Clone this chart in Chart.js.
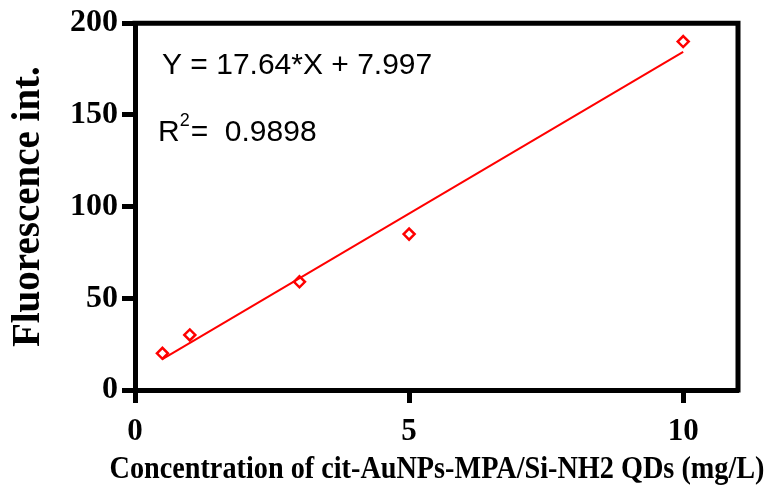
<!DOCTYPE html>
<html>
<head>
<meta charset="utf-8">
<script src="https://cdn.jsdelivr.net/npm/chart.js@4"></script>
<style>
  html, body { margin: 0; padding: 0; background: #fff; }
  #wrap { width: 769px; height: 492px; }
</style>
</head>
<body>
<div id="wrap"><canvas id="calib" width="769" height="492"></canvas></div>
<script>
// Calibration data: concentration (mg/L) vs fluorescence intensity
const concentration = [0.5, 1, 3, 5, 10];
const fluorescence = [20, 30, 59, 85, 190];

// Linear fit reported on the plot
const slope = 17.64;
const intercept = 7.997;
const rSquared = 0.9898;
const fitRange = [0.5, 10];

const xTicks = [0, 5, 10];
const yTicks = [0, 50, 100, 150, 200];
const xTitle = 'Concentration of cit-AuNPs-MPA/Si-NH2 QDs (mg/L)';

const serif = "'Times New Roman', 'Liberation Serif', serif";
const sans = "Arial, 'Liberation Sans', sans-serif";

const fitPoints = fitRange.map(x => ({ x: x, y: slope * x + intercept }));
const dataPoints = concentration.map((x, i) => ({ x: x, y: fluorescence[i] }));

// Closes the box on the top and right, writes the fit equation and the
// x axis title (wider than the plot, so the built-in title would squeeze it)
const framePlugin = {
    id: 'frame',
    afterDraw(chart) {
        const { ctx, chartArea: a } = chart;
        ctx.save();
        ctx.strokeStyle = '#000';
        ctx.lineWidth = 5;
        ctx.beginPath();
        ctx.moveTo(a.left - 2.5, a.top);
        ctx.lineTo(a.right, a.top);
        ctx.lineTo(a.right, a.bottom + 2.5);
        ctx.stroke();

        ctx.fillStyle = '#000';
        ctx.textBaseline = 'alphabetic';
        ctx.font = '30px ' + sans;
        ctx.fillText('Y = ' + slope + '*X + ' + intercept, a.left + 27, a.top + 51);
        ctx.fillText('R', a.left + 23, a.top + 118);
        const rW = ctx.measureText('R').width;
        ctx.font = '18px ' + sans;
        ctx.fillText('2', a.left + 23 + rW, a.top + 103);
        ctx.font = '30px ' + sans;
        ctx.fillText('=  ' + rSquared, a.left + 23 + rW + 11, a.top + 118);

        ctx.textAlign = 'center';
        ctx.textBaseline = 'middle';
        ctx.font = 'bold 31px ' + serif;
        ctx.fillText(xTitle, 437, 470, 655);
        ctx.restore();
    }
};

new Chart(document.getElementById('calib'), {
    type: 'scatter',
    data: {
        datasets: [
            {
                label: 'fit',
                type: 'line',
                data: fitPoints,
                borderColor: '#ff0000',
                borderWidth: 2,
                pointRadius: 0,
                fill: false
            },
            {
                label: 'data',
                data: dataPoints,
                pointStyle: 'rectRot',
                pointRadius: 5.5,
                pointBorderWidth: 2.5,
                pointBorderColor: '#ff0000',
                pointBackgroundColor: '#ffffff'
            }
        ]
    },
    options: {
        responsive: false,
        animation: false,
        layout: { padding: { top: 22, right: 31, left: 0, bottom: 0 } },
        plugins: {
            legend: { display: false },
            tooltip: { enabled: false }
        },
        scales: {
            x: {
                type: 'linear',
                min: 0,
                max: 11,
                afterBuildTicks: s => { s.ticks = xTicks.map(v => ({ value: v })); },
                afterFit: s => { s.height = 102; },
                border: { display: true, color: '#000', width: 5 },
                grid: {
                    drawOnChartArea: false,
                    drawTicks: true,
                    tickLength: 13,
                    tickWidth: 5,
                    tickColor: '#000'
                },
                ticks: {
                    color: '#000',
                    padding: 10,
                    font: { family: serif, size: 31, weight: 'bold' }
                },
                title: { display: false }
            },
            y: {
                type: 'linear',
                min: 0,
                max: 200,
                afterBuildTicks: s => { s.ticks = yTicks.map(v => ({ value: v })); },
                afterFit: s => { s.width = 135; },
                border: { display: true, color: '#000', width: 5 },
                grid: {
                    drawOnChartArea: false,
                    drawTicks: true,
                    tickLength: 13,
                    tickWidth: 5,
                    tickColor: '#000'
                },
                ticks: {
                    color: '#000',
                    padding: 4,
                    font: { family: serif, size: 32, weight: 'bold' }
                },
                title: {
                    display: true,
                    text: 'Fluorescence int.',
                    color: '#000',
                    padding: { top: 6, bottom: 0 },
                    font: { family: serif, size: 39, weight: 'bold' }
                }
            }
        }
    },
    plugins: [framePlugin]
});
</script>
</body>
</html>
